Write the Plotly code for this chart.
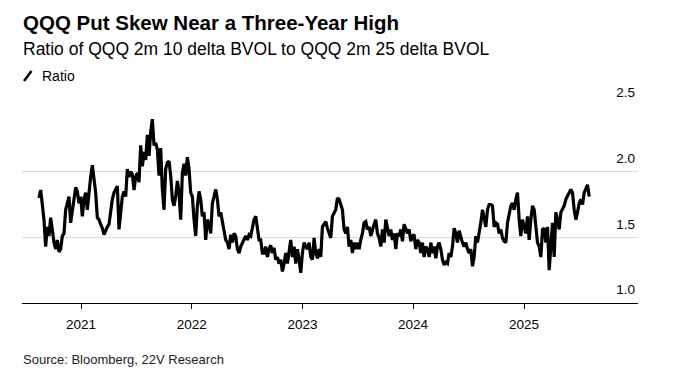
import pandas as pd
import plotly.graph_objects as go

# ---- data ----
start_date = "2020-08-15"
end_date = "2025-08-04"

ratio_2020_2021 = [1.80, 1.86, 1.75, 1.635, 1.43, 1.58, 1.51, 1.65, 1.56, 1.46, 1.41, 1.48, 1.39, 1.41,
                   1.51, 1.53, 1.71, 1.76, 1.81, 1.61, 1.71, 1.79, 1.88, 1.85, 1.76, 1.81, 1.66, 1.79,
                   1.84, 1.71, 1.86, 1.96, 2.05, 1.96, 1.84, 1.65, 1.635, 1.60, 1.57, 1.52, 1.56, 1.58,
                   1.60, 1.71, 1.79, 1.84, 1.86, 1.89, 1.56, 1.71, 1.81, 1.85, 1.81, 2.02, 1.96, 2.00,
                   1.98, 1.86, 1.96, 1.99, 1.92, 2.20, 2.04, 2.15, 2.09, 2.28, 2.12]
ratio_2021_2022 = [2.30, 2.40, 2.20, 2.22, 2.17, 1.97, 2.18, 1.865, 1.71, 2.02, 2.07, 2.08, 1.97, 1.79,
                   1.74, 1.81, 1.93, 1.84, 1.635, 1.99, 2.06, 1.97, 2.11, 2.02, 1.84, 1.81, 1.635, 1.51,
                   1.74, 1.85, 1.79, 1.66, 1.69, 1.48, 1.635, 1.60, 1.53, 1.76, 1.81, 1.865, 1.79, 1.66,
                   1.69, 1.61, 1.56, 1.48, 1.46, 1.41, 1.52, 1.46, 1.53, 1.51, 1.41, 1.38, 1.43, 1.46,
                   1.495, 1.51, 1.48, 1.52, 1.51, 1.56, 1.635, 1.66, 1.57, 1.48, 1.48, 1.38]
ratio_2022_2023 = [1.38, 1.43, 1.35, 1.41, 1.44, 1.38, 1.42, 1.33, 1.35, 1.30, 1.33, 1.24, 1.30, 1.38,
                   1.30, 1.41, 1.48, 1.35, 1.43, 1.30, 1.41, 1.33, 1.23, 1.38, 1.46, 1.43, 1.41, 1.46,
                   1.35, 1.33, 1.495, 1.38, 1.34, 1.41, 1.35, 1.58, 1.60, 1.62, 1.57, 1.53, 1.495, 1.66,
                   1.69, 1.71, 1.80, 1.79, 1.75, 1.71, 1.56, 1.53, 1.58, 1.43, 1.48, 1.38, 1.46, 1.41,
                   1.46, 1.41, 1.48, 1.53, 1.61, 1.62, 1.56, 1.58, 1.51, 1.56, 1.60, 1.635]
ratio_2023_2024 = [1.53, 1.495, 1.43, 1.56, 1.46, 1.635, 1.58, 1.51, 1.56, 1.48, 1.53, 1.41, 1.53, 1.51,
                   1.56, 1.47, 1.60, 1.56, 1.53, 1.56, 1.47, 1.51, 1.52, 1.41, 1.48, 1.46, 1.38, 1.46,
                   1.35, 1.43, 1.41, 1.35, 1.46, 1.38, 1.43, 1.34, 1.43, 1.46, 1.41, 1.33, 1.29, 1.31,
                   1.30, 1.38, 1.35, 1.43, 1.57, 1.53, 1.46, 1.55, 1.495, 1.46, 1.43, 1.46, 1.41, 1.38,
                   1.41, 1.28, 1.35, 1.51, 1.46, 1.53, 1.61, 1.71, 1.635, 1.58, 1.71, 1.75]
ratio_2024_2025 = [1.75, 1.74, 1.58, 1.61, 1.60, 1.53, 1.56, 1.495, 1.47, 1.46, 1.61, 1.69, 1.74, 1.76,
                   1.71, 1.79, 1.84, 1.635, 1.51, 1.635, 1.58, 1.53, 1.66, 1.48, 1.635, 1.74, 1.71, 1.58,
                   1.46, 1.43, 1.35, 1.56, 1.57, 1.46, 1.58, 1.25, 1.46, 1.61, 1.35, 1.69, 1.635, 1.56,
                   1.69, 1.71, 1.74, 1.79, 1.81, 1.84, 1.865, 1.84, 1.71, 1.635, 1.69, 1.76, 1.79, 1.75,
                   1.84, 1.865, 1.90, 1.81]

year_ticks = ["2021-01-01", "2022-01-01", "2023-01-01", "2024-01-01", "2025-01-01"]
year_labels = ["2021", "2022", "2023", "2024", "2025"]
y_ticks = [1.0, 1.5, 2.0, 2.5]

ratio = ratio_2020_2021 + ratio_2021_2022 + ratio_2022_2023 + ratio_2023_2024 + ratio_2024_2025
dates = pd.date_range(start_date, end_date, periods=len(ratio))

# ---- layout geometry (pixels) ----
W, H = 676, 386
ML, MR, MT, MB = 22, 38, 106, 83
PW, PH = W - ML - MR, H - MT - MB


def px(x):
    return (x - ML) / PW


def py(y):
    return (H - MB - y) / PH


FONT = "Liberation Sans, Arial, sans-serif"

fig = go.Figure()
fig.add_trace(go.Scatter(x=dates, y=ratio, mode="lines",
                         line=dict(color="#000000", width=3.2), name="Ratio",
                         showlegend=False, hoverinfo="x+y"))

fig.update_layout(
    width=W, height=H,
    margin=dict(l=ML, r=MR, t=MT, b=MB, pad=0),
    paper_bgcolor="white", plot_bgcolor="white",
    font=dict(family=FONT, color="#000000"),
    showlegend=False,
    xaxis=dict(range=["2020-06-20", "2026-01-12"], tickvals=year_ticks, ticktext=year_labels,
               ticks="outside", ticklen=5, tickcolor="#000000", tickwidth=1,
               showline=True, linecolor="#000000", linewidth=1, showgrid=False,
               zeroline=False, tickfont=dict(size=13.5, color="#000000", family=FONT),
               ticklabelstandoff=4, fixedrange=True),
    yaxis=dict(range=[1.0, 2.5], tickvals=y_ticks, tickformat=".1f", side="right",
               ticklabelposition="inside top", ticklabeloverflow="allow", ticks="",
               ticklabelshift=-4,
               showgrid=True, gridcolor="#dcdcdc", gridwidth=1, zeroline=False,
               showline=False, tickfont=dict(size=13.5, color="#000000", family=FONT),
               fixedrange=True),
)

annotations = [
    dict(text="<b>QQQ Put Skew Near a Three-Year High</b>", x=px(21), y=py(23),
         font=dict(size=20.5, color="#000000", family=FONT)),
    dict(text="Ratio of QQQ 2m 10 delta BVOL to QQQ 2m 25 delta BVOL", x=px(21), y=py(49.5),
         font=dict(size=17.5, color="#000000", family=FONT)),
    dict(text="Ratio", x=px(40), y=py(76),
         font=dict(size=14, color="#000000", family=FONT)),
    dict(text="Source: Bloomberg, 22V Research", x=px(21), y=py(359),
         font=dict(size=13, color="#222222", family=FONT)),
]
for a in annotations:
    a.update(xref="paper", yref="paper", xanchor="left", yanchor="middle",
             showarrow=False, align="left")
fig.update_layout(annotations=annotations)

fig.add_shape(type="line", xref="paper", yref="paper",
              x0=px(24), y0=py(81), x1=px(31.5), y1=py(71),
              line=dict(color="#000000", width=2.5))

fig.write_html("out.html", config={"displayModeBar": False, "staticPlot": True},
               post_script="document.body.style.margin='0px';")
